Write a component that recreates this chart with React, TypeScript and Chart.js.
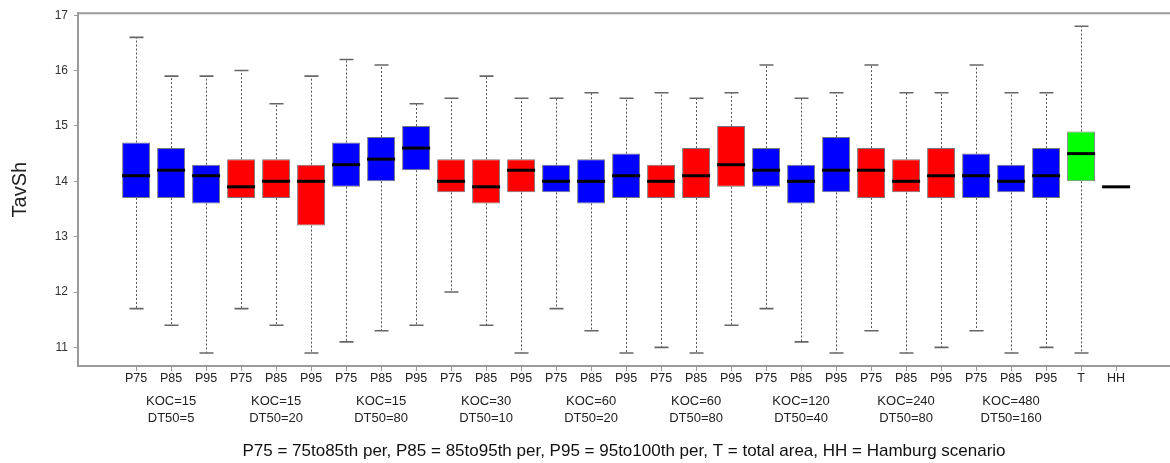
import { useEffect, useRef } from "react";
import { Chart, registerables } from "chart.js";

Chart.register(...registerables);

// ---------- data ----------
const categories = [
  "P75", "P85", "P95", "P75", "P85", "P95", "P75", "P85", "P95",
  "P75", "P85", "P95", "P75", "P85", "P95", "P75", "P85", "P95",
  "P75", "P85", "P95", "P75", "P85", "P95", "P75", "P85", "P95",
  "T", "HH",
];
const groupKoc = ["KOC=15", "KOC=15", "KOC=15", "KOC=30", "KOC=60", "KOC=60", "KOC=120", "KOC=240", "KOC=480"];
const groupDt50 = ["DT50=5", "DT50=20", "DT50=80", "DT50=10", "DT50=20", "DT50=80", "DT50=40", "DT50=80", "DT50=160"];
const groupCenters = [2, 5, 8, 11, 14, 17, 20, 23, 26];

const whiskerMax = [
  16.6, 15.9, 15.9, 16.0, 15.4, 15.9, 16.2, 16.1, 15.4,
  15.5, 15.9, 15.5, 15.5, 15.6, 15.5, 15.6, 15.5, 15.6,
  16.1, 15.5, 15.6, 16.1, 15.6, 15.6, 16.1, 15.6, 15.6,
  16.8, 13.9,
];
const q3 = [
  14.7, 14.6, 14.3, 14.4, 14.4, 14.3, 14.7, 14.8, 15.0,
  14.4, 14.4, 14.4, 14.3, 14.4, 14.5, 14.3, 14.6, 15.0,
  14.6, 14.3, 14.8, 14.6, 14.4, 14.6, 14.5, 14.3, 14.6,
  14.9, 13.9,
];
const median = [
  14.1, 14.2, 14.1, 13.9, 14.0, 14.0, 14.3, 14.4, 14.6,
  14.0, 13.9, 14.2, 14.0, 14.0, 14.1, 14.0, 14.1, 14.3,
  14.2, 14.0, 14.2, 14.2, 14.0, 14.1, 14.1, 14.0, 14.1,
  14.5, 13.9,
];
const q1 = [
  13.7, 13.7, 13.6, 13.7, 13.7, 13.2, 13.9, 14.0, 14.2,
  13.8, 13.6, 13.8, 13.8, 13.6, 13.7, 13.7, 13.7, 13.9,
  13.9, 13.6, 13.8, 13.7, 13.8, 13.7, 13.7, 13.8, 13.7,
  14.0, 13.9,
];
const whiskerMin = [
  11.7, 11.4, 10.9, 11.7, 11.4, 10.9, 11.1, 11.3, 11.4,
  12.0, 11.4, 10.9, 11.7, 11.3, 10.9, 11.0, 10.9, 11.4,
  11.7, 11.1, 10.9, 11.3, 10.9, 11.0, 11.3, 10.9, 11.0,
  10.9, 13.9,
];
const yTicks = [11, 12, 13, 14, 15, 16, 17];
const caption = "P75 = 75to85th per, P85 = 85to95th per, P95 = 95to100th per, T = total area, HH = Hamburg scenario";

// ---------- styles ----------
const FONT = "'Liberation Sans', Arial, sans-serif";
const BLUE = "#0000ff";
const RED = "#ff0000";
const GREEN = "#00ff00";
const FRAME = "#9a9a9a";
const WHISKER = "#555555";
const colorFor = (i: number) => {
  if (i === 27) return GREEN;
  if (i === 28) return "rgba(0,0,0,0)";
  return Math.floor(i / 3) % 2 === 0 ? BLUE : RED;
};

const boxParts = {
  id: "boxParts",
  beforeDatasetsDraw(chart: any) {
    const { ctx, scales, chartArea } = chart;
    const x = scales.x;
    const y = scales.y;
    const meta = chart.getDatasetMeta(0);
    ctx.save();
    ctx.beginPath();
    ctx.rect(chartArea.left, chartArea.top, chartArea.right - chartArea.left, chartArea.bottom - chartArea.top);
    ctx.clip();
    for (let i = 0; i < categories.length; i++) {
      const cx = Math.round(x.getPixelForValue(i + 1)) + 0.5;
      const w = meta.data[i].width;
      const capHalf = w / 4;
      ctx.strokeStyle = WHISKER;
      ctx.lineWidth = 1;
      ctx.setLineDash([2, 2]);
      if (whiskerMax[i] > q3[i]) {
        ctx.beginPath();
        ctx.moveTo(cx, y.getPixelForValue(q3[i]));
        ctx.lineTo(cx, y.getPixelForValue(whiskerMax[i]));
        ctx.stroke();
      }
      if (whiskerMin[i] < q1[i]) {
        ctx.beginPath();
        ctx.moveTo(cx, y.getPixelForValue(q1[i]));
        ctx.lineTo(cx, y.getPixelForValue(whiskerMin[i]));
        ctx.stroke();
      }
      ctx.setLineDash([]);
      ctx.lineWidth = 1.6;
      ctx.strokeStyle = "#666666";
      if (whiskerMax[i] > q3[i]) {
        const yy = y.getPixelForValue(whiskerMax[i]);
        ctx.beginPath();
        ctx.moveTo(cx - capHalf, yy);
        ctx.lineTo(cx + capHalf, yy);
        ctx.stroke();
      }
      if (whiskerMin[i] < q1[i]) {
        const yy = y.getPixelForValue(whiskerMin[i]);
        ctx.beginPath();
        ctx.moveTo(cx - capHalf, yy);
        ctx.lineTo(cx + capHalf, yy);
        ctx.stroke();
      }
    }
    ctx.restore();
  },
  afterDatasetsDraw(chart: any) {
    const { ctx, scales, chartArea } = chart;
    const x = scales.x;
    const y = scales.y;
    const meta = chart.getDatasetMeta(0);
    ctx.save();
    // medians
    ctx.strokeStyle = "#000";
    ctx.lineWidth = 3;
    for (let i = 0; i < categories.length; i++) {
      const cx = x.getPixelForValue(i + 1);
      const w = meta.data[i].width;
      const yy = y.getPixelForValue(median[i]);
      ctx.beginPath();
      ctx.moveTo(cx - w / 2, yy);
      ctx.lineTo(cx + w / 2, yy);
      ctx.stroke();
    }
    // top frame line
    ctx.strokeStyle = FRAME;
    ctx.lineWidth = 2;
    ctx.beginPath();
    ctx.moveTo(chartArea.left - 1, chartArea.top);
    ctx.lineTo(chartArea.right, chartArea.top);
    ctx.stroke();
    // group labels
    ctx.fillStyle = "#222";
    ctx.font = `13px ${FONT}`;
    ctx.textAlign = "center";
    ctx.textBaseline = "middle";
    for (let g = 0; g < groupCenters.length; g++) {
      const gx = x.getPixelForValue(groupCenters[g]);
      ctx.fillText(groupKoc[g], gx, chartArea.bottom + 35);
      ctx.fillText(groupDt50[g], gx, chartArea.bottom + 52);
    }
    ctx.restore();
  },
};

export default function App() {
  const ref = useRef<HTMLCanvasElement>(null);
  useEffect(() => {
    if (!ref.current) return;
    Chart.defaults.font.family = FONT;
    const chart = new Chart(ref.current, {
      type: "bar",
      data: {
        datasets: [
          {
            data: categories.map((_, i) => ({ x: i + 1, y: [q1[i], q3[i]] })) as any,
            backgroundColor: categories.map((_, i) => colorFor(i)),
            borderColor: categories.map((_, i) => (i === 28 ? "rgba(0,0,0,0)" : "#777777")),
            borderWidth: 1,
            borderSkipped: false,
            barPercentage: 0.8,
            categoryPercentage: 1,
          },
        ],
      },
      options: {
        animation: false,
        responsive: false,
        events: [],
        layout: { padding: { top: 13, left: 0, right: 0, bottom: 0 } },
        plugins: { legend: { display: false }, tooltip: { enabled: false }, title: { display: false } },
        scales: {
          x: {
            type: "linear",
            min: -0.66,
            max: 30.54,
            offset: false,
            afterBuildTicks: (s: any) => {
              s.ticks = categories.map((_, i) => ({ value: i + 1 }));
            },
            afterFit: (s: any) => {
              s.height = 97;
            },
            ticks: {
              autoSkip: false,
              maxRotation: 0,
              padding: 0,
              color: "#222",
              font: { size: 12.5 },
              callback: (v: any) => categories[Math.round(v) - 1] ?? "",
            },
            grid: { display: true, drawOnChartArea: false, drawTicks: true, tickLength: 5, color: FRAME, offset: false },
            border: { display: true, color: FRAME, width: 2 },
            title: {
              display: true,
              text: caption,
              color: "#111",
              font: { size: 17 },
              padding: { top: 0, bottom: 1 },
            },
          },
          y: {
            type: "linear",
            min: 10.664,
            max: 17.036,
            afterBuildTicks: (s: any) => {
              s.ticks = yTicks.map((v) => ({ value: v }));
            },
            afterFit: (s: any) => {
              s.width = 78;
            },
            ticks: { color: "#333", font: { size: 12 }, padding: 6 },
            grid: { display: true, drawOnChartArea: false, drawTicks: true, tickLength: 4, color: FRAME },
            border: { display: true, color: FRAME, width: 2 },
            title: {
              display: true,
              text: "TavSh",
              color: "#222",
              font: { size: 20 },
              padding: { top: 8, bottom: 0 },
            },
          },
        },
      },
      plugins: [boxParts],
    });
    return () => chart.destroy();
  }, []);
  return (
    <div style={{ position: "fixed", left: 0, top: 0, width: 1170, height: 463, background: "#fff" }}>
      <canvas ref={ref} width={1170} height={463} style={{ display: "block" }} />
    </div>
  );
}
